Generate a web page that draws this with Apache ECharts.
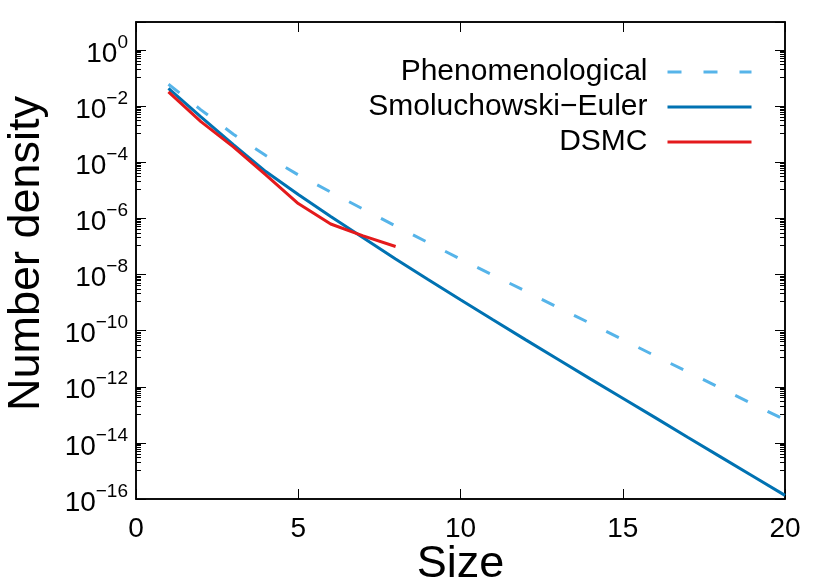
<!DOCTYPE html>
<html>
<head>
<meta charset="utf-8">
<title>Number density vs size</title>
<script src="https://cdn.jsdelivr.net/npm/echarts@6/dist/echarts.min.js"></script>
<style>
  html, body { margin: 0; padding: 0; background: #fff; }
  #chart { width: 830px; height: 579px; }
</style>
</head>
<body>
<div id="chart"></div>
<script>
// values
const sizes = [1, 2, 3, 4, 5, 6, 7, 8, 9, 10, 11, 12, 13, 14, 15, 16, 17, 18, 19, 20]
const phenomenological = [
  6.03e-2, 7.41e-3, 1.0e-3, 1.74e-4, 3.55e-5, 8.71e-6, 2.14e-6, 5.37e-7, 1.38e-7, 3.55e-8,
  9.55e-9, 2.57e-9, 6.76e-10, 1.82e-10, 4.79e-11, 1.26e-11, 3.39e-12, 9.12e-13, 2.45e-13, 6.61e-14
]
const smoluchowskiEuler = [
  4.27e-2, 4.17e-3, 4.27e-4, 4.68e-5, 7.08e-6, 1.17e-6, 2.04e-7, 3.55e-8, 6.61e-9, 1.26e-9,
  2.45e-10, 4.79e-11, 9.55e-12, 1.91e-12, 3.89e-13, 7.94e-14, 1.58e-14, 3.24e-15, 6.61e-16, 1.35e-16
]
const dsmcSizes = [1, 2, 3, 4, 5, 6, 7, 8]
const dsmc = [3.24e-2, 2.82e-3, 3.55e-4, 3.55e-5, 3.39e-6, 6.31e-7, 2.40e-7, 1.0e-7]

const seriesNames = ['Phenomenological', 'Smoluchowski\u2212Euler', 'DSMC']
const seriesColors = ['#56b4e9', '#0072b2', '#e41a1c']

const FONT = "'Liberation Sans', Arial, Helvetica, sans-serif"

function pairs(xs, ys) {
  return xs.map((x, i) => [x, ys[i]])
}

// 10^n labels with a raised exponent, only on even powers
function powerLabel(value) {
  const e = Math.round(Math.log10(value))
  if (e % 2 !== 0 || e > 0) return ''
  const exp = e < 0 ? '\u2212' + (-e) : String(e)
  return '{b|10}{s|' + exp + '}'
}

const xAxisBase = {
  type: 'value',
  min: 0,
  max: 20,
  interval: 5,
  axisLine: { show: true, onZero: false, lineStyle: { color: '#000', width: 1.5 } },
  axisTick: { show: true, inside: true, length: 10, lineStyle: { color: '#000', width: 1 } },
  splitLine: { show: false }
}

const yAxisBase = {
  type: 'log',
  logBase: 10,
  min: 1e-16,
  max: 10,
  interval: 2,
  axisLine: { show: true, onZero: false, lineStyle: { color: '#000', width: 1.5 } },
  axisTick: { show: true, inside: true, length: 10, lineStyle: { color: '#000', width: 1 } },
  minorTick: { show: true, splitNumber: 10, length: 5, lineStyle: { color: '#000', width: 1 } },
  splitLine: { show: false },
  minorSplitLine: { show: false }
}

const chart = echarts.init(document.getElementById('chart'))

const option = {
  animation: false,
  backgroundColor: '#fff',
  textStyle: { fontFamily: FONT },
  grid: {
    left: 136,
    right: 45,
    top: 22,
    bottom: 80,
    outerBoundsMode: 'none',
    containLabel: false,
    show: true,
    borderColor: '#000',
    borderWidth: 1.5,
    backgroundColor: 'transparent'
  },
  legend: {
    orient: 'vertical',
    right: 72,
    top: 52,
    align: 'right',
    itemWidth: 84,
    itemHeight: 14,
    itemGap: 5,
    data: seriesNames,
    itemStyle: { opacity: 0 },
    lineStyle: { width: 3 },
    textStyle: {
      fontFamily: FONT,
      fontSize: 30,
      lineHeight: 30,
      color: '#000',
      padding: [0, 15, 0, 0]
    }
  },
  xAxis: [
    Object.assign({}, xAxisBase, {
      position: 'bottom',
      name: 'Size',
      nameLocation: 'middle',
      nameGap: 43,
      nameMoveOverlap: false,
      nameTextStyle: { fontFamily: FONT, fontSize: 45, color: '#000' },
      axisLabel: { show: true, margin: 16, fontFamily: FONT, fontSize: 28, color: '#000' }
    }),
    Object.assign({}, xAxisBase, {
      position: 'top',
      axisLabel: { show: false }
    })
  ],
  yAxis: [
    Object.assign({}, yAxisBase, {
      position: 'left',
      name: 'Number density',
      nameLocation: 'middle',
      nameGap: 87,
      nameTextStyle: { fontFamily: FONT, fontSize: 45, color: '#000', padding: [0, 0, 0, 14] },
      axisLabel: {
        show: true,
        margin: 8,
        color: '#000',
        formatter: powerLabel,
        rich: {
          b: { fontFamily: FONT, fontSize: 28, color: '#000', padding: [8, 0, 0, 0] },
          s: { fontFamily: FONT, fontSize: 19, color: '#000', padding: [0, 0, 15, 0] }
        }
      }
    }),
    Object.assign({}, yAxisBase, {
      position: 'right',
      axisLabel: { show: false }
    })
  ],
  series: [
    {
      name: seriesNames[0],
      type: 'line',
      data: pairs(sizes, phenomenological),
      symbol: 'none',
      color: seriesColors[0],
      lineStyle: { width: 3, type: [14, 22], color: seriesColors[0] },
      z: 2
    },
    {
      name: seriesNames[1],
      type: 'line',
      data: pairs(sizes, smoluchowskiEuler),
      symbol: 'none',
      color: seriesColors[1],
      lineStyle: { width: 3, color: seriesColors[1] },
      z: 3
    },
    {
      name: seriesNames[2],
      type: 'line',
      data: pairs(dsmcSizes, dsmc),
      symbol: 'none',
      color: seriesColors[2],
      lineStyle: { width: 3, color: seriesColors[2] },
      z: 4
    }
  ]
}

chart.setOption(option)
</script>
</body>
</html>
